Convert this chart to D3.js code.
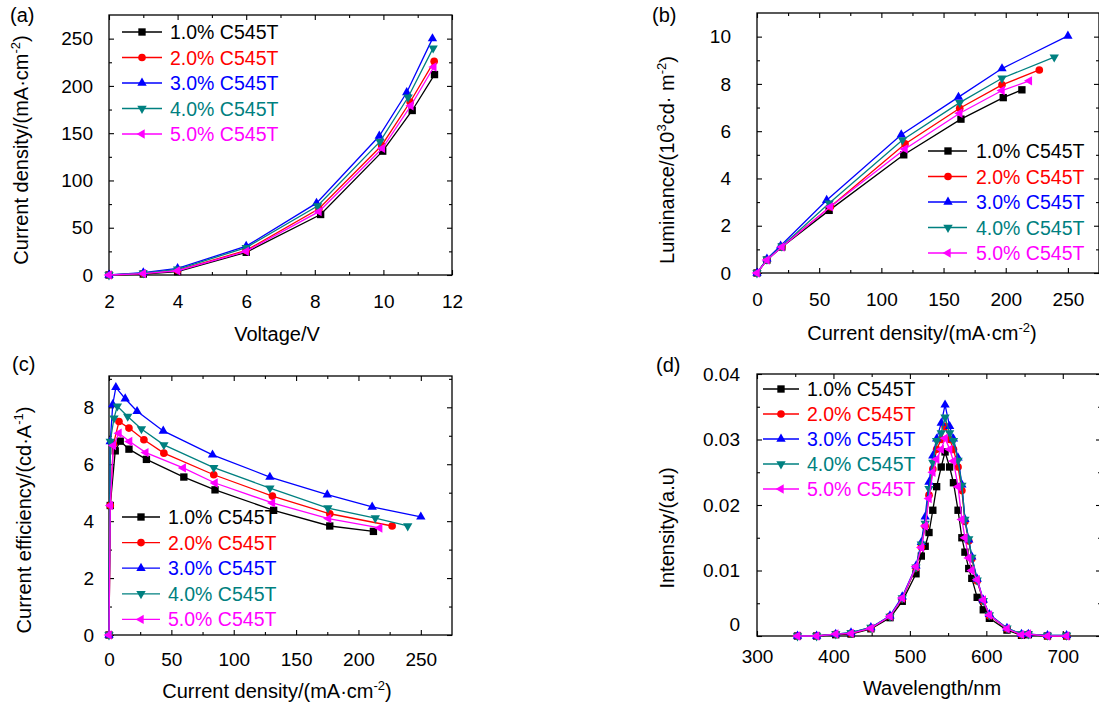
<!DOCTYPE html>
<html>
<head>
<meta charset="utf-8">
<script src="https://cdn.jsdelivr.net/npm/d3@7"></script>
<style>
  body { margin: 0; background: #fff; }
  svg text { font-family: "Liberation Sans", Arial, sans-serif; }
</style>
</head>
<body>
<svg id="chart" width="1099" height="702"></svg>
<script>
// series shared by all four panels
var labels = ["1.0% C545T", "2.0% C545T", "3.0% C545T", "4.0% C545T", "5.0% C545T"];
var colors = ["#000000", "#ff0000", "#0000ff", "#008080", "#ff00ff"];
var shapes = ["square", "circle", "up", "down", "left"];

// (a) current density vs voltage
var jvVoltage = [
  [2, 3, 4, 6, 8.17, 9.98, 10.84, 11.49],
  [2, 3, 4, 6, 8.12, 9.95, 10.78, 11.48],
  [2, 3, 4, 6, 8.05, 9.88, 10.68, 11.43],
  [2, 3, 4, 6, 8.08, 9.90, 10.72, 11.45],
  [2, 3, 4, 6, 8.12, 9.97, 10.80, 11.47]
];
var jvCurrent = [
  [0, 1, 3.5, 24, 64, 131, 174, 212],
  [0, 1.5, 5, 26, 70, 137, 183, 226],
  [0, 2.5, 7, 30.5, 76, 147, 193, 250],
  [0, 2, 6, 29, 73, 141, 188, 240],
  [0, 1.5, 4.5, 25, 67, 134, 179, 220]
];

// (b) luminance vs current density
var lumCurrent = [
  [0, 8, 20, 58, 118, 164, 198, 213],
  [0, 8, 20, 59, 119, 163, 197, 227],
  [0, 8, 19, 56, 116, 162, 197, 250],
  [0, 8, 20, 58, 117, 163, 197, 239],
  [0, 8, 20, 59, 119, 163, 197, 219]
];
var luminance = [
  [0, 0.55, 1.10, 2.65, 5.00, 6.51, 7.42, 7.75],
  [0, 0.57, 1.12, 2.80, 5.46, 6.97, 7.96, 8.59],
  [0, 0.60, 1.15, 3.08, 5.85, 7.44, 8.65, 10.03],
  [0, 0.58, 1.13, 2.95, 5.63, 7.21, 8.24, 9.13],
  [0, 0.55, 1.10, 2.80, 5.25, 6.76, 7.72, 8.13]
];

// (c) current efficiency vs current density
var ceCurrent = [
  [0, 1, 5, 9, 16, 30, 60, 85, 132, 177, 212],
  [0, 1, 3.5, 8, 16, 28, 44, 84, 131, 177, 227],
  [0, 1, 3, 5.5, 13, 22.5, 43.5, 83, 129, 175, 211, 250],
  [0, 1, 4, 6.7, 15, 26, 44, 84, 129, 175.5, 213.5, 239.5],
  [0, 1, 3.5, 8, 16.5, 29.5, 59.5, 85, 131, 176, 217]
];
var efficiency = [
  [0, 4.55, 6.47, 6.81, 6.53, 6.17, 5.55, 5.10, 4.38, 3.83, 3.64],
  [0, 4.55, 6.70, 7.50, 7.27, 6.86, 6.39, 5.63, 4.88, 4.26, 3.83],
  [0, 6.80, 8.10, 8.70, 8.30, 7.86, 7.17, 6.33, 5.55, 4.93, 4.50, 4.15],
  [0, 6.80, 7.62, 8.04, 7.68, 7.24, 6.68, 5.88, 5.16, 4.46, 4.11, 3.83],
  [0, 4.55, 6.66, 7.09, 6.80, 6.41, 5.87, 5.34, 4.64, 4.09, 3.76]
];

// (d) EL spectra
var wavelength = [353, 378, 403, 423, 449, 474, 490, 508, 515, 520, 525, 530, 535, 541, 546,
                  552, 557, 563, 568, 572, 577, 581, 588, 596, 604, 627, 646, 655, 680, 705];
var intensity = [
  [0, 0, 0.0002, 0.0003, 0.0011, 0.0028, 0.0053, 0.0095, 0.0122, 0.0137, 0.0158, 0.0192, 0.0228, 0.0258, 0.0281,
   0.0258, 0.0234, 0.0192, 0.0150, 0.0128, 0.0103, 0.0088, 0.0059, 0.0040, 0.0027, 0.0009, 0.0001, 0.0002, 0, 0],
  [0, 0, 0.0003, 0.0004, 0.0012, 0.0030, 0.0057, 0.0104, 0.0136, 0.0168, 0.0215, 0.0255, 0.0285, 0.0300, 0.0320,
   0.0300, 0.0285, 0.0258, 0.0222, 0.0175, 0.0145, 0.0118, 0.0084, 0.0053, 0.0031, 0.0011, 0.0002, 0.0003, 0, 0],
  [0, 0, 0.0003, 0.0005, 0.0013, 0.0031, 0.0060, 0.0107, 0.0143, 0.0182, 0.0235, 0.0275, 0.0301, 0.0325, 0.0353,
   0.0320, 0.0301, 0.0272, 0.0231, 0.0178, 0.0147, 0.0121, 0.0087, 0.0055, 0.0033, 0.0012, 0.0003, 0.0003, 0.0001, 0.0001],
  [0, 0, 0.0003, 0.0005, 0.0013, 0.0030, 0.0058, 0.0105, 0.0140, 0.0172, 0.0225, 0.0265, 0.0298, 0.0310, 0.0334,
   0.0310, 0.0298, 0.0268, 0.0230, 0.0178, 0.0148, 0.0120, 0.0085, 0.0054, 0.0032, 0.0012, 0.0003, 0.0003, 0.0001, 0.0001],
  [0, 0, 0.0003, 0.0004, 0.0012, 0.0030, 0.0058, 0.0106, 0.0135, 0.0168, 0.0210, 0.0250, 0.0270, 0.0285, 0.0302,
   0.0285, 0.0267, 0.0228, 0.0178, 0.0150, 0.0119, 0.0100, 0.0086, 0.0055, 0.0032, 0.0011, 0.0002, 0.0003, 0, 0]
];

var svg = d3.select("#chart");
var fontFamily = '"Liberation Sans", Arial, sans-serif';

// draw one marker of the given shape
function addMarker(sel, shape, color, cx, cy) {
  var type = d3.symbolTriangle, size = 38, rot = 0;
  if (shape === "square") { type = d3.symbolSquare; size = 54; }
  if (shape === "circle") { type = d3.symbolCircle; size = 46; }
  if (shape === "down") rot = 180;
  if (shape === "left") rot = -90;
  sel.append("path")
    .attr("d", d3.symbol().type(type).size(size)())
    .attr("transform", "translate(" + cx + "," + cy + ") rotate(" + rot + ")")
    .attr("fill", color);
}

// text with superscript parts
function richText(sel, parts) {
  var lastSup = false;
  parts.forEach(function(p) {
    var t = sel.append("tspan").text(p.t);
    if (p.sup) t.attr("dy", -8).attr("font-size", 13);
    else if (lastSup) t.attr("dy", 8);
    lastSup = !!p.sup;
  });
}

function drawPanel(p) {
  var g = svg.append("g")
    .attr("transform", "translate(" + p.left + "," + p.top + ")");

  var x = d3.scaleLinear().domain(p.xDomain).range([0, p.width]);
  var y = d3.scaleLinear().domain(p.yDomain).range([p.height, 0]);

  function styleAxis(a) {
    a.select(".domain").remove();
    a.attr("font-size", 19).attr("font-family", fontFamily);
    a.selectAll("line").attr("stroke-width", 1.1);
    a.selectAll("text").attr("fill", "#000");
  }

  // major + minor ticks, pointing inward, on all four sides
  var bottom = g.append("g").attr("transform", "translate(0," + p.height + ")")
    .call(d3.axisBottom(x).tickValues(p.xTicks).tickSize(-5).tickPadding(p.xPad).tickFormat(p.xFormat));
  styleAxis(bottom);
  g.append("g").attr("transform", "translate(0," + p.height + ")")
    .call(d3.axisBottom(x).tickValues(p.xMinor).tickSize(-3).tickFormat("")).call(styleAxis);
  g.append("g").call(d3.axisTop(x).tickValues(p.xTicks).tickSize(-5).tickFormat("")).call(styleAxis);
  g.append("g").call(d3.axisTop(x).tickValues(p.xMinor).tickSize(-3).tickFormat("")).call(styleAxis);

  var left = g.append("g")
    .call(d3.axisLeft(y).tickValues(p.yTicks).tickSize(-5).tickPadding(p.yPad).tickFormat(p.yFormat));
  styleAxis(left);
  if (p.zeroShift) left.selectAll("text").filter(function(d) { return d === 0; }).attr("dy", p.zeroShift);
  g.append("g").call(d3.axisLeft(y).tickValues(p.yMinor).tickSize(-3).tickFormat("")).call(styleAxis);
  g.append("g").attr("transform", "translate(" + p.width + ",0)")
    .call(d3.axisRight(y).tickValues(p.yTicks).tickSize(-5).tickFormat("")).call(styleAxis);
  g.append("g").attr("transform", "translate(" + p.width + ",0)")
    .call(d3.axisRight(y).tickValues(p.yMinor).tickSize(-3).tickFormat("")).call(styleAxis);

  // frame
  g.append("rect")
    .attr("width", p.width).attr("height", p.height)
    .attr("fill", "none").attr("stroke", "#000").attr("stroke-width", 1.3);

  // series (xs is either one shared array or one array per series)
  var line = d3.line().x(function(d) { return x(d[0]); }).y(function(d) { return y(d[1]); });
  var shared = !Array.isArray(p.xs[0]);
  p.ys.forEach(function(ys, i) {
    var xs = shared ? p.xs : p.xs[i];
    var pts = ys.map(function(v, k) { return [xs[k], v]; });
    g.append("path").datum(pts)
      .attr("d", line)
      .attr("fill", "none").attr("stroke", colors[i]).attr("stroke-width", 1.3);
    var mg = g.append("g");
    pts.forEach(function(d) { addMarker(mg, shapes[i], colors[i], x(d[0]), y(d[1])); });
  });

  // legend
  var L = p.legend;
  labels.forEach(function(lab, i) {
    var yy = L.y0 + i * L.dy;
    svg.append("line").attr("x1", L.x1).attr("x2", L.x2).attr("y1", yy).attr("y2", yy)
      .attr("stroke", colors[i]).attr("stroke-width", 1.3);
    addMarker(svg, shapes[i], colors[i], L.mx, yy);
    svg.append("text").attr("x", L.tx).attr("y", yy).attr("dy", "0.36em")
      .attr("font-size", 19.5).attr("fill", colors[i]).text(lab);
  });

  // axis titles
  richText(svg.append("text").attr("x", p.xTitle.x).attr("y", p.xTitle.y)
    .attr("text-anchor", "middle").attr("font-size", 20), p.xTitle.parts);
  richText(svg.append("text").attr("text-anchor", "middle").attr("font-size", 20)
    .attr("transform", "translate(" + p.yTitle.x + "," + p.yTitle.y + ") rotate(-90)"), p.yTitle.parts);

  // panel tag
  svg.append("text").attr("x", p.tag.x).attr("y", p.tag.y).attr("font-size", 20).text(p.tag.t);
}

var intFmt = d3.format("d");

drawPanel({
  left: 109, top: 15, width: 343, height: 260,
  xDomain: [2, 12], yDomain: [0, 275],
  xTicks: [2, 4, 6, 8, 10, 12], xMinor: [3, 5, 7, 9, 11],
  yTicks: [0, 50, 100, 150, 200, 250], yMinor: [25, 75, 125, 175, 225],
  xFormat: intFmt, yFormat: intFmt, xPad: 20, yPad: 16,
  xs: jvVoltage, ys: jvCurrent,
  legend: {x1: 122, x2: 162, mx: 142, tx: 170, y0: 32, dy: 25.5},
  xTitle: {x: 277, y: 341, parts: [{t: "Voltage/V"}]},
  yTitle: {x: 28, y: 150, parts: [{t: "Current density/(mA\u00b7cm"}, {t: "-2", sup: true}, {t: ")"}]},
  tag: {x: 10, y: 22, t: "(a)"}
});

drawPanel({
  left: 757, top: 13, width: 342, height: 260,
  xDomain: [0, 275], yDomain: [0, 11],
  xTicks: [0, 50, 100, 150, 200, 250], xMinor: [25, 75, 125, 175, 225],
  yTicks: [0, 2, 4, 6, 8, 10], yMinor: [1, 3, 5, 7, 9],
  xFormat: intFmt, yFormat: intFmt, xPad: 20, yPad: 26,
  xs: lumCurrent, ys: luminance,
  legend: {x1: 928, x2: 967, mx: 948, tx: 976, y0: 151, dy: 25.5},
  xTitle: {x: 922, y: 340, parts: [{t: "Current density/(mA\u00b7cm"}, {t: "-2", sup: true}, {t: ")"}]},
  yTitle: {x: 674, y: 160, parts: [{t: "Luminance/(10"}, {t: "3", sup: true}, {t: "cd\u00b7 m"}, {t: "-2", sup: true}, {t: ")"}]},
  tag: {x: 652, y: 22, t: "(b)"}
});

drawPanel({
  left: 109, top: 376, width: 343, height: 259,
  xDomain: [0, 275], yDomain: [0, 9.1],
  xTicks: [0, 50, 100, 150, 200, 250], xMinor: [25, 75, 125, 175, 225],
  yTicks: [0, 2, 4, 6, 8], yMinor: [1, 3, 5, 7, 9],
  xFormat: intFmt, yFormat: intFmt, xPad: 18, yPad: 15,
  xs: ceCurrent, ys: efficiency,
  legend: {x1: 122, x2: 160, mx: 141, tx: 168, y0: 517, dy: 25.6},
  xTitle: {x: 277, y: 698, parts: [{t: "Current density/(mA\u00b7cm"}, {t: "-2", sup: true}, {t: ")"}]},
  yTitle: {x: 31, y: 520, parts: [{t: "Current efficiency/(cd\u00b7A"}, {t: "-1", sup: true}, {t: ")"}]},
  tag: {x: 12, y: 371, t: "(c)"}
});

drawPanel({
  left: 757, top: 374, width: 344, height: 262,
  xDomain: [300, 750], yDomain: [0, 0.04],
  xTicks: [300, 400, 500, 600, 700], xMinor: [350, 450, 550, 650],
  yTicks: [0, 0.01, 0.02, 0.03, 0.04], yMinor: [0.005, 0.015, 0.025, 0.035],
  xFormat: intFmt, yFormat: function(d) { return d === 0 ? "0" : d3.format(".2f")(d); },
  xPad: 14, yPad: 17, zeroShift: "-0.3em",
  xs: wavelength, ys: intensity,
  legend: {x1: 763, x2: 799, mx: 781, tx: 807, y0: 389, dy: 25},
  xTitle: {x: 932, y: 695, parts: [{t: "Wavelength/nm"}]},
  yTitle: {x: 674, y: 528, parts: [{t: "Intensity/(a.u)"}]},
  tag: {x: 656, y: 372, t: "(d)"}
});
</script>
</body>
</html>
